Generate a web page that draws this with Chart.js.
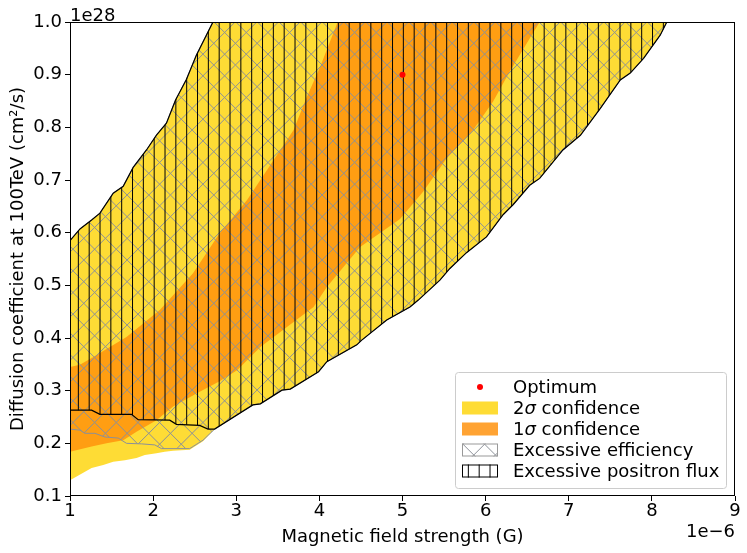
<!DOCTYPE html>
<html>
<head>
<meta charset="utf-8">
<script src="https://cdn.jsdelivr.net/npm/chart.js@4.4.1/dist/chart.umd.min.js"></script>
<style>
  html, body { margin: 0; padding: 0; background: #fff; }
  #wrap { width: 747px; height: 553px; }
</style>
</head>
<body>
<div id="wrap"><canvas id="chart" width="747" height="553"></canvas></div>
<script>
// boundaries, x in 1e-6 G, y in 1e28 cm^2/s
const upperLeftEdge = [[1.00,0.585],[1.12,0.607],[1.26,0.624],[1.36,0.637],[1.52,0.675],[1.64,0.688],
  [1.76,0.724],[1.92,0.757],[2.04,0.785],[2.16,0.808],[2.27,0.852],[2.40,0.891],[2.52,0.937],[2.72,1.00]];
const lowerRightEdge = [[2.74,0.227],[3.20,0.273],[3.29,0.275],[3.55,0.301],[3.65,0.303],[3.99,0.336],
  [4.09,0.355],[4.45,0.387],[4.51,0.396],[4.81,0.434],[5.09,0.459],[5.19,0.472],[5.45,0.510],[5.57,0.532],
  [5.77,0.562],[6.01,0.592],[6.21,0.634],[6.33,0.653],[6.53,0.690],[6.65,0.703],[6.93,0.757],[7.14,0.785],
  [7.38,0.836],[7.62,0.890],[7.74,0.903],[7.90,0.931],[8.10,0.975],[8.18,1.00]];
const yellowBottomEdge = [[1.00,0.130],[1.26,0.153],[1.40,0.159],[1.52,0.165],[1.66,0.168],[1.80,0.172],
  [1.90,0.178],[2.04,0.181],[2.14,0.184],[2.24,0.186],[2.44,0.188],[2.60,0.204]];
const orangeTopEdge = [[1.00,0.345],[1.12,0.349],[1.28,0.364],[1.68,0.402],[2.08,0.453],[2.48,0.523],
  [2.80,0.599],[3.13,0.662],[3.45,0.738],[3.69,0.795],[3.85,0.858],[4.01,0.915],[4.22,1.00]];
const orangeBottomEdge = [[1.00,0.184],[1.26,0.194],[1.44,0.200],[1.64,0.206],[1.80,0.222],[2.04,0.244],
  [2.24,0.270],[2.56,0.298],[2.80,0.318],[3.01,0.339],[3.29,0.383],[3.61,0.421],[3.93,0.459],[4.09,0.497],
  [4.49,0.573],[4.97,0.626],[5.25,0.678],[5.53,0.741],[5.85,0.795],[6.09,0.849],[6.29,0.906],[6.65,1.00]];
const efficiencyEdge = [[1.00,0.227],[1.12,0.225],[1.18,0.219],[1.30,0.219],[1.42,0.212],[1.58,0.210],
  [1.68,0.200],[1.86,0.199],[2.02,0.197],[2.10,0.190],[2.44,0.190],[2.60,0.206]];
const positronEdge = [[1.00,0.263],[1.26,0.263],[1.36,0.255],[1.74,0.255],[1.82,0.245],[2.20,0.244],
  [2.28,0.236],[2.56,0.234],[2.66,0.227]];
const optimum = [5.0, 0.90];

const xTicks = [1, 9, 1];       // min, max, step
const yTicks = [0.1, 1.0, 0.1];

const yellow = '#fedc35';
const orange = '#ff9e12';
const hatchGrey = '#8c9098';

function pts(edge) {
  return edge.map(p => ({x: p[0], y: p[1]}));
}

function polygon(...parts) {
  let out = [];
  parts.forEach(p => { out = out.concat(p) });
  out.push(out[0]);
  return pts(out);
}

// 65px tile = one matplotlib hatch unit, 6 lines for '|', 3 per direction for 'x'
function makeHatch(kind, color, lw) {
  const size = 65, n = 6, step = size / n, d = -2.9;
  const c = document.createElement('canvas');
  c.width = size; c.height = size;
  const g = c.getContext('2d');
  g.strokeStyle = color;
  g.lineWidth = lw;
  g.beginPath();
  if (kind === '|') {
    for (let i = -1; i <= n; i++) {
      const x = i * step + step / 2 + d;
      g.moveTo(x, 0); g.lineTo(x, size);
    }
  } else {
    for (let i = -4; i <= 4; i++) {
      const a = i * 2 * step + d;
      g.moveTo(a, 0); g.lineTo(a + size, size);
      g.moveTo(a, size); g.lineTo(a + size, 0);
    }
  }
  g.stroke();
  return g.createPattern(c, 'repeat');
}

const crossHatch = makeHatch('x', hatchGrey, 1);
const lineHatch = makeHatch('|', '#000', 1);

const rev = a => a.slice().reverse();

const yellowPoly = polygon(upperLeftEdge, rev(lowerRightEdge), rev(yellowBottomEdge));
const orangePoly = polygon(orangeTopEdge, rev(orangeBottomEdge));
const efficiencyPoly = polygon(upperLeftEdge, rev(lowerRightEdge), rev(efficiencyEdge));
const positronPoly = polygon(upperLeftEdge, rev(lowerRightEdge), rev(positronEdge));

const FONT = 'DejaVu Sans';
const FS = 18;
Chart.defaults.font.family = FONT;
Chart.defaults.font.size = FS;
Chart.defaults.color = '#000';

function area(data, bg, border, bw, order) {
  return {
    data: data, showLine: true, fill: 'shape', backgroundColor: bg,
    borderColor: border, borderWidth: bw, pointRadius: 0, pointHoverRadius: 0,
    tension: 0, order: order
  };
}

// legend box and offset texts, drawn like matplotlib does
const extras = {
  id: 'extras',
  afterDraw(chart) {
    const {ctx, chartArea: a} = chart;
    ctx.save();
    ctx.strokeStyle = '#000';
    ctx.lineWidth = 1;
    ctx.strokeRect(a.left + 0.5, a.top + 0.5, a.right - a.left - 1, a.bottom - a.top - 1);

    ctx.font = FS + 'px ' + FONT;
    ctx.fillStyle = '#000';
    ctx.textBaseline = 'alphabetic';
    ctx.textAlign = 'left';
    ctx.fillText('1e28', a.left, a.top - 1);
    ctx.textAlign = 'right';
    ctx.fillText('1e\u22126', a.right, a.bottom + 41);

    const w = 271, h = 116;
    const x0 = a.right - 280, y0 = a.bottom - 124;
    ctx.beginPath();
    ctx.roundRect(x0 + 0.5, y0 + 0.5, w, h, 3);
    ctx.fillStyle = 'rgba(255,255,255,0.8)';
    ctx.fill();
    ctx.strokeStyle = '#cccccc';
    ctx.stroke();

    const hx = x0 + 7, hw = 36, hh = 13, tx = x0 + 58;
    const rows = [
      {text: ['Optimum']},
      {text: ['2', '\u03c3', ' confidence'], fill: yellow},
      {text: ['1', '\u03c3', ' confidence'], fill: '#ffa333'},
      {text: ['Excessive efficiency'], fill: crossHatch, edge: '#999'},
      {text: ['Excessive positron flux'], fill: lineHatch, edge: '#000'}
    ];
    rows.forEach((r, i) => {
      const cy = y0 + 15 + i * 21;
      if (i === 0) {
        ctx.beginPath();
        ctx.arc(hx + hw / 2, cy, 3, 0, Math.PI * 2);
        ctx.fillStyle = 'red';
        ctx.fill();
      } else {
        ctx.fillStyle = r.fill;
        ctx.fillRect(hx, cy - hh / 2, hw, hh);
        if (r.edge) {
          ctx.strokeStyle = r.edge;
          ctx.strokeRect(hx + 0.5, cy - hh / 2 + 0.5, hw - 1, hh - 1);
        }
      }
      ctx.fillStyle = '#000';
      ctx.textAlign = 'left';
      ctx.textBaseline = 'middle';
      let x = tx;
      r.text.forEach((t, k) => {
        ctx.font = (k === 1 ? 'italic ' : '') + FS + 'px ' + FONT;
        ctx.fillText(t, x, cy + 1);
        x += ctx.measureText(t).width;
      });
    });
    ctx.restore();
  }
};

new Chart(document.getElementById('chart'), {
  type: 'scatter',
  data: {
    datasets: [
      {data: [{x: optimum[0], y: optimum[1]}], backgroundColor: 'red', borderWidth: 0,
       pointRadius: 3, pointHoverRadius: 3, order: 0},
      area(positronPoly, lineHatch, '#000', 1.2, 1),
      area(efficiencyPoly, crossHatch, hatchGrey, 1, 2),
      area(orangePoly, orange, 'rgba(0,0,0,0)', 0, 3),
      area(yellowPoly, yellow, 'rgba(0,0,0,0)', 0, 4)
    ]
  },
  options: {
    responsive: false,
    animation: false,
    events: [],
    layout: {padding: {top: 22, right: 12, left: 0, bottom: 0}},
    plugins: {legend: {display: false}, tooltip: {enabled: false}},
    scales: {
      x: {
        type: 'linear', min: xTicks[0], max: xTicks[1],
        ticks: {stepSize: xTicks[2], padding: 0, autoSkip: false, maxRotation: 0},
        grid: {drawOnChartArea: false, drawTicks: true, tickLength: 5, tickColor: '#000'},
        border: {display: false},
        title: {display: true, text: 'Magnetic field strength (G)', padding: {top: 0, bottom: 5}},
        afterFit(s) { s.height = 57; }
      },
      y: {
        type: 'linear', min: yTicks[0], max: yTicks[1],
        ticks: {stepSize: yTicks[2], padding: 3, autoSkip: false,
                callback: v => v.toFixed(1)},
        grid: {drawOnChartArea: false, drawTicks: true, tickLength: 5, tickColor: '#000'},
        border: {display: false},
        title: {display: true, text: 'Diffusion coefficient at 100TeV (cm\u00b2/s)', padding: {top: 8, bottom: 0}},
        afterFit(s) { s.width = 70; }
      }
    }
  },
  plugins: [extras]
});
</script>
</body>
</html>
